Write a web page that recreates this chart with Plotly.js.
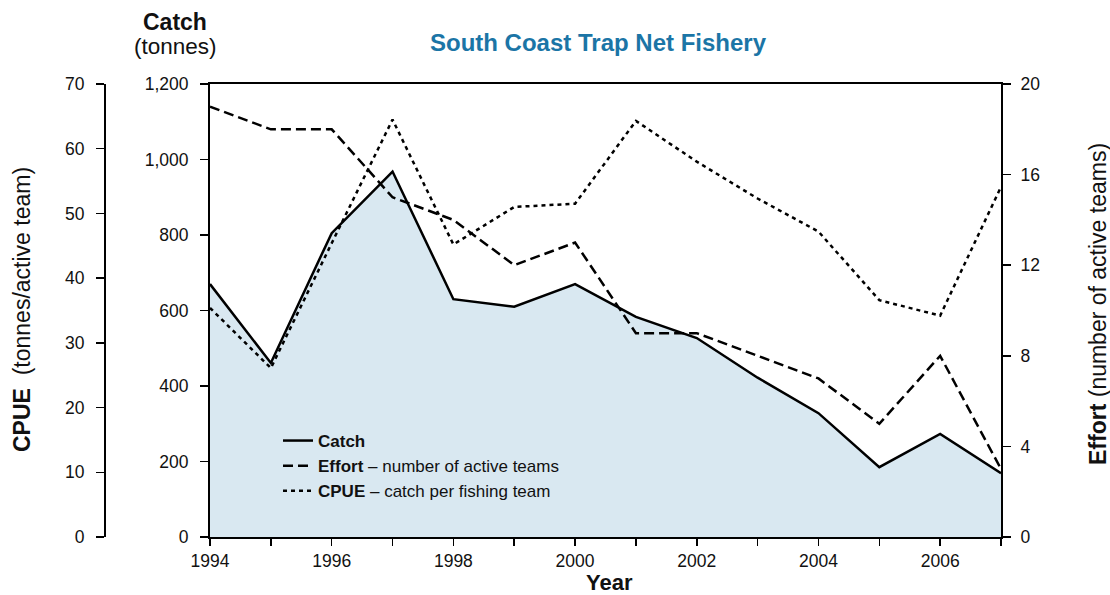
<!DOCTYPE html>
<html>
<head>
<meta charset="utf-8">
<script src="https://cdn.plot.ly/plotly-3.0.1.min.js"></script>
<style>html,body{margin:0;padding:0;background:#fff;}#chart{width:1110px;height:595px;}</style>
</head>
<body>
<div id="chart"></div>
<script>
const years = [1994,1995,1996,1997,1998,1999,2000,2001,2002,2003,2004,2005,2006,2007];
const catchTonnes = [670,461,805,968,630,610,670,583,527,422,328,185,273,169];
const effortTeams = [19,18,18,15,14,12,13,9,9,8,7,5,8,3];
const cpue = [35.4,26.1,45.4,64.5,45.2,51.0,51.5,64.3,58.0,52.3,47.2,36.6,34.2,54.1];
const xTickVals = years;
const xTickText = years.map(y => (y % 2 === 0 ? String(y) : ''));
const catchTicks = [0,200,400,600,800,1000,1200];
const cpueTicks = [0,10,20,30,40,50,60,70];
const effortTicks = [0,4,8,12,16,20];

const FONT = 'Liberation Sans, Arial, sans-serif';
const plotL = 105, plotR = 1001, plotT = 84, plotB = 537;
const pw = plotR - plotL, ph = plotB - plotT;
const px = x => (x - plotL) / pw;
const py = y => (plotB - y) / ph;

const traces = [
  {x: years, y: catchTonnes, type: 'scatter', mode: 'lines', fill: 'tozeroy',
   fillcolor: '#d9e8f1', line: {width: 0, color: 'rgba(0,0,0,0)'}, showlegend: false, hoverinfo: 'skip', yaxis: 'y'},
  {x: years, y: catchTonnes, type: 'scatter', mode: 'lines', name: '<b>Catch</b>',
   line: {color: '#000', width: 2.5}, yaxis: 'y'},
  {x: years, y: effortTeams, type: 'scatter', mode: 'lines', name: '<b>Effort</b> – number of active teams',
   line: {color: '#000', width: 2.5, dash: '10px,5px'}, yaxis: 'y3'},
  {x: years, y: cpue, type: 'scatter', mode: 'lines', name: '<b>CPUE</b> – catch per fishing team',
   line: {color: '#000', width: 2.5, dash: '4px,4px'}, yaxis: 'y2'}
];

const axCommon = {
  showline: true, linecolor: '#000', linewidth: 2, ticks: 'outside', ticklen: 8,
  tickwidth: 1.5, tickcolor: '#000', showgrid: false, zeroline: false,
  tickfont: {family: FONT, size: 17.5, color: '#111'}, fixedrange: true
};

const layout = {
  width: 1110, height: 595,
  margin: {l: plotL, r: 1110 - plotR, t: plotT, b: 595 - plotB},
  paper_bgcolor: '#fff', plot_bgcolor: 'rgba(0,0,0,0)',
  font: {family: FONT, color: '#111'},
  title: {text: '<b>South Coast Trap Net Fishery</b>', font: {family: FONT, size: 24, color: '#1b75a6'},
          xref: 'paper', x: px(598), xanchor: 'center', yref: 'container', y: 1 - 43/595, yanchor: 'middle'},
  xaxis: Object.assign({}, axCommon, {
    domain: [(210 - plotL) / pw, 1], range: [1994, 2007], tickvals: xTickVals, ticktext: xTickText,
    ticklen: 7, mirror: true, anchor: 'y'
  }),
  yaxis: Object.assign({}, axCommon, {
    range: [0, 1200], tickvals: catchTicks, tickformat: ',', anchor: 'x', side: 'left', ticklabelstandoff: 8
  }),
  yaxis2: Object.assign({}, axCommon, {
    range: [0, 70], tickvals: cpueTicks, overlaying: 'y', anchor: 'free', position: 0, side: 'left', ticklabelstandoff: 8
  }),
  yaxis3: Object.assign({}, axCommon, {
    range: [0, 20], tickvals: effortTicks, overlaying: 'y', anchor: 'x', side: 'right', ticklabelstandoff: 6
  }),
  legend: {x: px(278), y: py(423), xanchor: 'left', yanchor: 'top', bgcolor: 'rgba(0,0,0,0)',
           font: {family: FONT, size: 17, color: '#111'}, tracegroupgap: 0},
  showlegend: true,
  annotations: [
    {text: '<b>Catch</b>', xref: 'paper', yref: 'paper', x: px(175), y: py(22), xanchor: 'center', yanchor: 'middle',
     showarrow: false, font: {family: FONT, size: 23, color: '#111'}},
    {text: '(tonnes)', xref: 'paper', yref: 'paper', x: px(175), y: py(46), xanchor: 'center', yanchor: 'middle',
     showarrow: false, font: {family: FONT, size: 22.5, color: '#111'}},
    {text: '<b>Year</b>', xref: 'paper', yref: 'paper', x: px(609), y: py(582), xanchor: 'center', yanchor: 'middle',
     showarrow: false, font: {family: FONT, size: 22, color: '#111'}},
    {text: '<b>CPUE</b>  (tonnes/active team)', xref: 'paper', yref: 'paper', x: px(22), y: py(310),
     xanchor: 'center', yanchor: 'middle', textangle: -90, showarrow: false, font: {family: FONT, size: 23, color: '#111'}},
    {text: '<b>Effort</b> (number of active teams)', xref: 'paper', yref: 'paper', x: px(1098), y: py(304),
     xanchor: 'center', yanchor: 'middle', textangle: -90, showarrow: false, font: {family: FONT, size: 23, color: '#111'}}
  ]
};

Plotly.newPlot('chart', traces, layout, {staticPlot: true, displayModeBar: false});
</script>
</body>
</html>
